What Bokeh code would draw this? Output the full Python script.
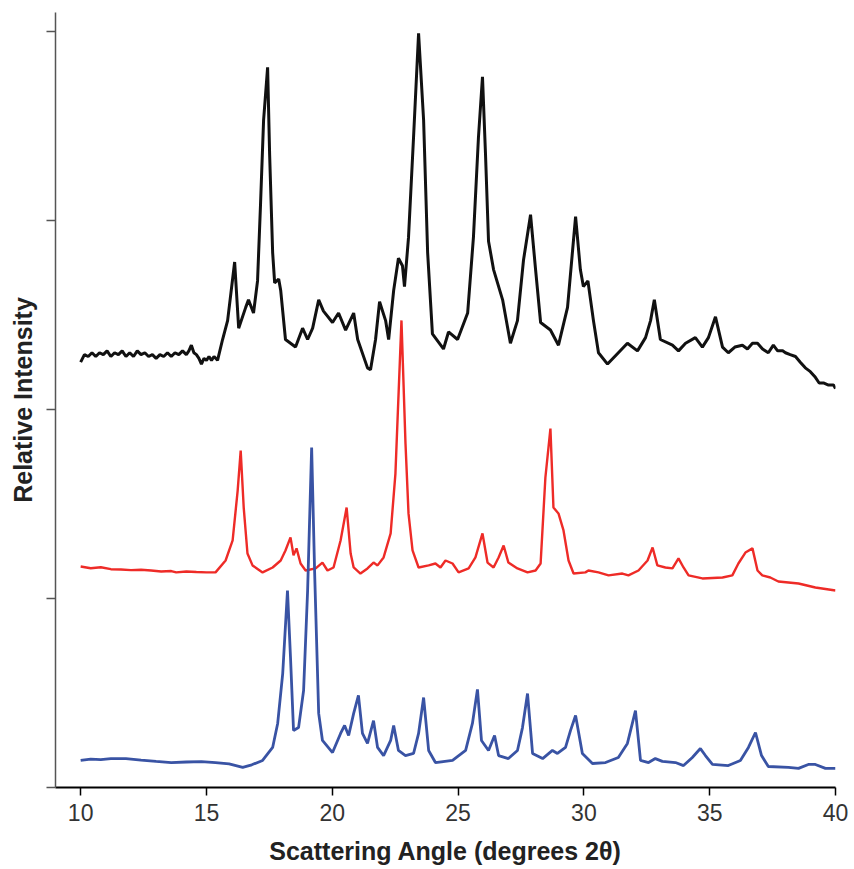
from bokeh.plotting import figure
from bokeh.models import FixedTicker, Range1d
from bokeh.embed import file_html
from bokeh.resources import INLINE

# ---- data (2θ in degrees, offset relative intensity) ----
black_x = [10.00, 10.15, 10.30, 10.45, 10.60, 10.75, 10.90, 11.05, 11.20, 11.35, 11.50, 11.65,
           11.80, 11.95, 12.10, 12.25, 12.40, 12.55, 12.70, 12.85, 13.00, 13.15, 13.30, 13.45,
           13.60, 13.75, 13.90, 14.05, 14.20, 14.30, 14.40, 14.50, 14.60, 14.70, 14.80, 14.90,
           15.00, 15.10, 15.20, 15.30, 15.44, 15.64, 15.84, 16.12,
           16.28, 16.56, 16.67, 16.87, 17.03, 17.15, 17.27, 17.43, 17.51, 17.63, 17.71, 17.87,
           17.95, 18.14, 18.54, 18.82, 19.02, 19.22, 19.46, 19.65, 20.01, 20.25, 20.53, 20.85,
           21.01, 21.40, 21.52, 21.72, 21.88, 22.12, 22.24, 22.44, 22.63, 22.79, 22.87, 23.03,
           23.23, 23.43, 23.63, 23.79, 23.98, 24.42, 24.62, 24.98, 25.38, 25.61, 25.81, 25.97,
           26.09, 26.21, 26.41, 26.77, 27.08, 27.36, 27.60, 27.88, 28.08, 28.28, 28.67, 28.99,
           29.35, 29.67, 29.86, 29.98, 30.16, 30.38, 30.58, 30.94, 31.37, 31.73, 32.13, 32.45,
           32.65, 32.80, 33.04, 33.52, 33.76, 34.04, 34.43, 34.71, 34.95, 35.23, 35.51, 35.74,
           36.00, 36.30, 36.50, 36.70, 36.90, 37.10, 37.33, 37.53, 37.70, 37.90, 38.01, 38.20,
           38.41, 38.60, 38.80, 39.00, 39.20, 39.35, 39.52, 39.70, 39.92, 40.00]
black_y = [2.25, 2.29, 2.28, 2.30, 2.28, 2.30, 2.29, 2.31, 2.28, 2.30, 2.29, 2.31,
           2.28, 2.30, 2.28, 2.31, 2.29, 2.30, 2.28, 2.29, 2.27, 2.29, 2.28, 2.30,
           2.28, 2.30, 2.29, 2.31, 2.29, 2.31, 2.34, 2.30, 2.29, 2.27, 2.24, 2.27,
           2.26, 2.28, 2.26, 2.28, 2.26, 2.37, 2.47, 2.78,
           2.43, 2.54, 2.58, 2.51, 2.68, 3.09, 3.53, 3.81, 3.35, 2.83, 2.67, 2.69,
           2.63, 2.37, 2.33, 2.43, 2.37, 2.43, 2.58, 2.52, 2.46, 2.51, 2.42, 2.51,
           2.37, 2.22, 2.21, 2.37, 2.57, 2.47, 2.37, 2.63, 2.80, 2.76, 2.65, 2.91,
           3.44, 3.99, 3.53, 2.83, 2.40, 2.32, 2.41, 2.37, 2.51, 2.91, 3.44, 3.76,
           3.35, 2.89, 2.74, 2.58, 2.35, 2.47, 2.79, 3.03, 2.74, 2.46, 2.42, 2.34,
           2.54, 3.02, 2.74, 2.65, 2.68, 2.47, 2.30, 2.24, 2.30, 2.35, 2.31, 2.38,
           2.47, 2.58, 2.37, 2.34, 2.31, 2.35, 2.38, 2.33, 2.38, 2.49, 2.33, 2.30,
           2.33, 2.34, 2.32, 2.35, 2.35, 2.32, 2.30, 2.34, 2.31, 2.31, 2.30, 2.29,
           2.28, 2.25, 2.22, 2.20, 2.17, 2.14, 2.14, 2.13, 2.13, 2.11]

red_x = [10.00, 10.40, 10.80, 11.20, 11.60, 12.00, 12.40, 12.80, 13.20, 13.60, 13.80, 14.20,
         14.60, 15.00, 15.36, 15.76, 16.04, 16.24, 16.36, 16.48, 16.63,
         16.83, 17.23, 17.63, 17.95, 18.14, 18.34, 18.46, 18.58, 18.74, 18.94, 19.34, 19.61,
         19.81, 20.05, 20.33, 20.57, 20.73, 20.85, 21.12, 21.40, 21.64, 21.80, 22.04, 22.32,
         22.51, 22.75, 22.91, 23.03, 23.19, 23.43, 23.83, 24.10, 24.30, 24.50, 24.78, 25.02,
         25.42, 25.69, 25.97, 26.17, 26.41, 26.61, 26.81, 27.00, 27.36, 27.76, 28.08, 28.28,
         28.47, 28.67, 28.79, 28.99, 29.19, 29.39, 29.59, 30.06, 30.18, 30.58, 30.98, 31.53,
         31.77, 32.17, 32.53, 32.73, 32.92, 33.24, 33.52, 33.76, 33.96, 34.16, 34.71, 35.51,
         35.90, 36.14, 36.42, 36.70, 36.90, 37.09, 37.41, 37.73, 38.53, 39.20, 40.00]
red_y = [1.169, 1.160, 1.165, 1.155, 1.153, 1.150, 1.152, 1.148, 1.143, 1.145, 1.138, 1.143,
         1.140, 1.138, 1.138, 1.201, 1.307, 1.571, 1.783, 1.481, 1.238,
         1.175, 1.138, 1.164, 1.201, 1.254, 1.323, 1.228, 1.265, 1.185, 1.148, 1.159, 1.190,
         1.148, 1.164, 1.307, 1.481, 1.238, 1.164, 1.132, 1.159, 1.190, 1.175, 1.217, 1.344,
         1.661, 2.471, 1.820, 1.450, 1.254, 1.164, 1.175, 1.185, 1.164, 1.201, 1.185, 1.138,
         1.159, 1.217, 1.344, 1.190, 1.164, 1.217, 1.280, 1.190, 1.159, 1.138, 1.148, 1.185,
         1.640, 1.899, 1.481, 1.450, 1.360, 1.201, 1.132, 1.138, 1.148, 1.138, 1.122, 1.132,
         1.122, 1.148, 1.201, 1.270, 1.175, 1.164, 1.159, 1.212, 1.164, 1.122, 1.106, 1.111,
         1.122, 1.185, 1.243, 1.265, 1.148, 1.122, 1.111, 1.090, 1.079, 1.058, 1.042]

blue_x = [10.00, 10.40, 10.80, 11.20, 11.80, 12.40, 13.00, 13.60, 14.20, 14.80, 15.36, 15.90,
          16.44, 16.80, 17.23, 17.63, 17.83, 18.03, 18.22, 18.34, 18.46,
          18.66, 18.86, 19.02, 19.18, 19.30, 19.46, 19.61, 20.01, 20.33, 20.49, 20.65, 20.85,
          21.04, 21.20, 21.40, 21.64, 21.80, 22.04, 22.32, 22.44, 22.63, 22.91, 23.23, 23.43,
          23.63, 23.83, 24.10, 24.78, 25.30, 25.57, 25.77, 25.93, 26.21, 26.45, 26.61, 27.00,
          27.36, 27.56, 27.76, 27.96, 28.36, 28.75, 28.95, 29.27, 29.47, 29.67, 29.94, 30.34,
          30.86, 31.37, 31.73, 32.05, 32.25, 32.57, 32.84, 33.12, 33.64, 33.96, 34.31, 34.63,
          34.83, 35.11, 35.74, 36.22, 36.54, 36.82, 37.06, 37.33, 38.13, 38.53, 38.92, 39.20,
          39.60, 40.00]
blue_y = [0.143, 0.150, 0.148, 0.153, 0.153, 0.145, 0.138, 0.132, 0.135, 0.137, 0.132, 0.125,
          0.106, 0.120, 0.143, 0.212, 0.339, 0.603, 1.042, 0.688, 0.302,
          0.317, 0.513, 1.042, 1.799, 1.132, 0.392, 0.249, 0.185, 0.286, 0.328, 0.275, 0.392,
          0.487, 0.286, 0.233, 0.354, 0.212, 0.169, 0.249, 0.328, 0.196, 0.169, 0.180, 0.286,
          0.476, 0.196, 0.132, 0.143, 0.196, 0.339, 0.519, 0.249, 0.196, 0.275, 0.169, 0.153,
          0.196, 0.317, 0.497, 0.180, 0.153, 0.196, 0.180, 0.212, 0.302, 0.381, 0.180, 0.127,
          0.132, 0.159, 0.233, 0.407, 0.143, 0.132, 0.153, 0.138, 0.132, 0.116, 0.159, 0.206,
          0.169, 0.122, 0.116, 0.143, 0.212, 0.291, 0.169, 0.111, 0.106, 0.101, 0.122, 0.122,
          0.101, 0.101]

x_ticks = [10, 15, 20, 25, 30, 35, 40]
y_ticks = [0, 1, 2, 3, 4]

FONT = "Liberation Sans"

p = figure(width=850, height=869, output_backend="svg", toolbar_location=None,
           x_range=Range1d(9, 40), y_range=Range1d(0, 4.1),
           min_border_left=55, min_border_right=15, min_border_top=12, min_border_bottom=82)
p.outline_line_color = None
p.grid.grid_line_color = None
p.background_fill_color = "white"
p.border_fill_color = "white"

p.line(black_x, black_y, line_color="#111111", line_width=3)
p.line(red_x, red_y, line_color="#ee2b27", line_width=2.4)
p.line(blue_x, blue_y, line_color="#3953a4", line_width=2.8)

# x axis
xa = p.xaxis[0]
xa.ticker = FixedTicker(ticks=x_ticks)
xa.minor_tick_line_color = None
xa.axis_line_color = "#000000"
xa.axis_line_width = 2
xa.major_tick_line_color = "#000000"
xa.major_tick_line_width = 1.5
xa.major_tick_in = 0
xa.major_tick_out = 8
xa.major_label_text_font = FONT
xa.major_label_text_font_size = "23px"
xa.major_label_text_color = "#333333"
xa.major_label_standoff = 8
xa.axis_label = "Scattering Angle (degrees 2θ)"
xa.axis_label_text_font = FONT
xa.axis_label_text_font_size = "25px"
xa.axis_label_text_font_style = "bold"
xa.axis_label_text_color = "#222222"
xa.axis_label_standoff = 13

# y axis (ticks only, no tick labels)
ya = p.yaxis[0]
ya.ticker = FixedTicker(ticks=y_ticks)
ya.minor_tick_line_color = None
ya.axis_line_color = "#555555"
ya.axis_line_width = 1.5
ya.major_tick_line_color = "#555555"
ya.major_tick_line_width = 1.5
ya.major_tick_in = 0
ya.major_tick_out = 9
ya.major_label_text_color = None
ya.major_label_text_font_size = "0px"
ya.major_label_standoff = 0
ya.axis_label = "Relative Intensity"
ya.axis_label_text_font = FONT
ya.axis_label_text_font_size = "25px"
ya.axis_label_text_font_style = "bold"
ya.axis_label_text_color = "#222222"
ya.axis_label_standoff = 10

open("out.html", "w").write(file_html(p, INLINE))
